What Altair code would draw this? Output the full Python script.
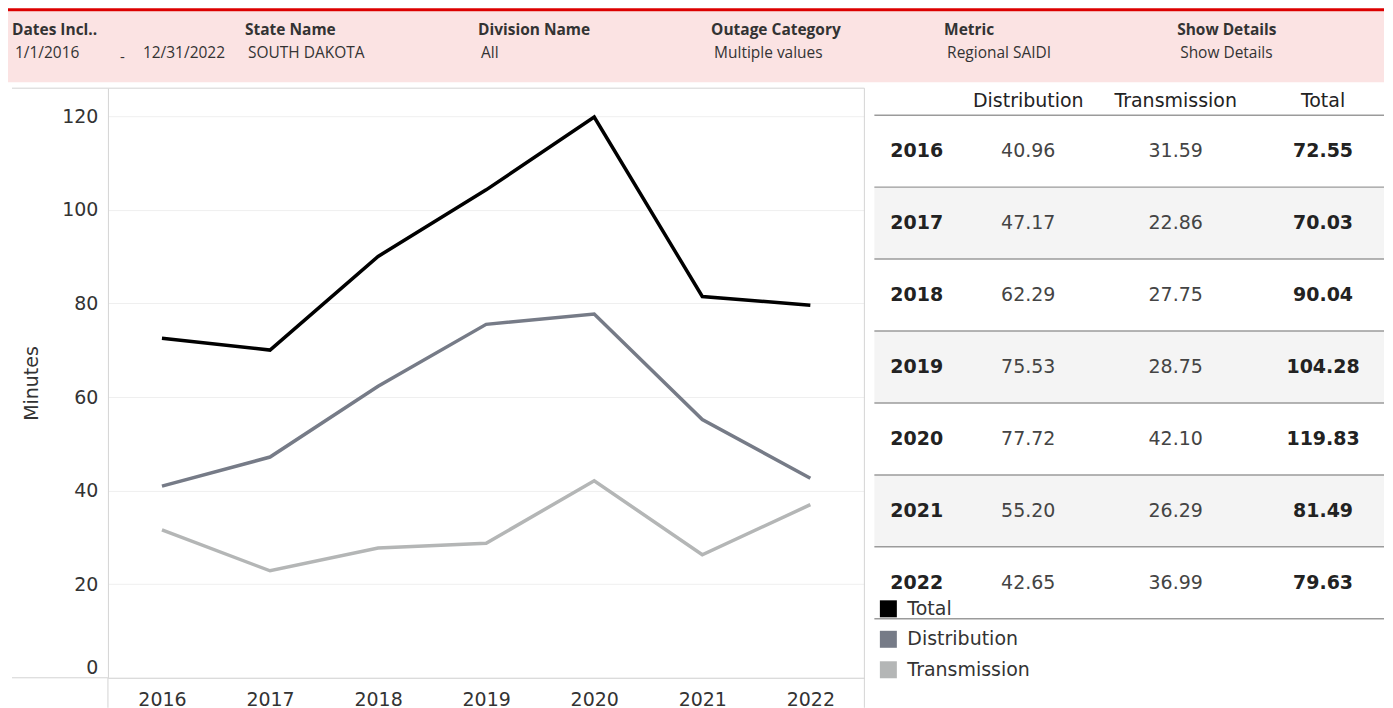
import altair as alt
import pandas as pd

# ---------------- data ----------------
years = ["2016", "2017", "2018", "2019", "2020", "2021", "2022"]
distribution = [40.96, 47.17, 62.29, 75.53, 77.72, 55.20, 42.65]
transmission = [31.59, 22.86, 27.75, 28.75, 42.10, 26.29, 36.99]
total = [72.55, 70.03, 90.04, 104.28, 119.83, 81.49, 79.63]

series_names = ["Total", "Distribution", "Transmission"]
series_colors = ["#000000", "#767b87", "#b4b6b6"]
table_columns = ["Distribution", "Transmission", "Total"]
shaded_years = ["2017", "2019", "2021"]
y_ticks = [0, 20, 40, 60, 80, 100, 120]

filter_labels = ["Dates Incl..", "State Name", "Division Name",
                 "Outage Category", "Metric", "Show Details"]
filter_values = ["1/1/2016", "SOUTH DAKOTA", "All",
                 "Multiple values", "Regional SAIDI", "Show Details"]
date_end = "12/31/2022"

# ---------------- tables ----------------
series_values = {"Total": total, "Distribution": distribution, "Transmission": transmission}
line_df = pd.DataFrame([
    {"Year": y, "Series": s, "Minutes": v}
    for s in series_names for y, v in zip(years, series_values[s])
])
tbl_df = pd.DataFrame([
    {"year": y, "col": c, "value": series_values[c][i]}
    for i, y in enumerate(years) for c in table_columns
])
years_df = pd.DataFrame({"year": years})
shade_df = pd.DataFrame({"year": shaded_years})
cols_df = pd.DataFrame({"col": table_columns})
legend_df = pd.DataFrame({"Series": series_names})
filt_df = pd.DataFrame({"filter": filter_labels, "value": filter_values})
one = pd.DataFrame({"a": [0]})

F = "DejaVu Sans"
HF = "Open Sans"
GRAYLINE = "#d4d4d4"

# plot area of the line chart (all other pieces are placed around it)
LW, LH = 757, 590
LEFT, RIGHT = -100, 1277        # full dashboard extent, relative to the plot
TX0 = 767                        # left edge of the table

color_scale = alt.Scale(domain=series_names, range=series_colors)

# ---------------- header (filter bar) ----------------
hx = alt.X("filter:N", sort=None, axis=None,
           scale=alt.Scale(type="point", domain=filter_labels, range=[-96, 1070], padding=0))
hdr_bg = alt.Chart(one).mark_rect(color="#fbe3e3").encode(
    x=alt.value(LEFT), x2=alt.value(RIGHT), y=alt.value(-77), y2=alt.value(-6))
hdr_red = alt.Chart(one).mark_rect(color="#dc0000").encode(
    x=alt.value(LEFT), x2=alt.value(RIGHT), y=alt.value(-80), y2=alt.value(-77))
hdr_lab = alt.Chart(filt_df).mark_text(
    align="left", baseline="middle", font=HF, fontSize=15.5, fontWeight="bold", color="#333333"
).encode(x=hx, y=alt.value(-58), text="filter:N")
hdr_val = alt.Chart(filt_df).mark_text(
    align="left", baseline="middle", font=HF, fontSize=15.5, color="#333333", dx=3
).encode(x=hx, y=alt.value(-35), text="value:N")
hdr_dash = alt.Chart(filt_df.head(1)).mark_text(
    align="left", baseline="middle", font=HF, fontSize=15, color="#333333", dx=108
).encode(x=hx, y=alt.value(-31), text=alt.value("-"))
hdr_end = alt.Chart(filt_df.head(1)).mark_text(
    align="left", baseline="middle", font=HF, fontSize=15.5, color="#333333", dx=131
).encode(x=hx, y=alt.value(-35), text=alt.value(date_end))

# ---------------- line chart ----------------
lines = alt.Chart(line_df).mark_line(strokeWidth=3.5).encode(
    x=alt.X("Year:O", sort=years, title=None,
            scale=alt.Scale(type="point", padding=0.5),
            axis=alt.Axis(labelAngle=0, labelFont=F, labelFontSize=19, labelColor="#333333",
                          ticks=False, domainColor=GRAYLINE, labelPadding=13, grid=False)),
    y=alt.Y("Minutes:Q", title="Minutes",
            scale=alt.Scale(domain=[0, 126], nice=False, zero=True),
            axis=alt.Axis(values=y_ticks, titleFont=F, titleFontSize=19,
                          titleFontWeight="normal", titleColor="#333333", titlePadding=20,
                          labelFont=F, labelFontSize=19, labelColor="#333333",
                          labelPadding=10, ticks=False, domainColor=GRAYLINE,
                          gridColor="#efefef", labelFlush=True)),
    color=alt.Color("Series:N", scale=color_scale, legend=None),
)
rule_kw = dict(color=GRAYLINE, strokeWidth=1)
top_border = alt.Chart(one).mark_rule(**rule_kw).encode(
    x=alt.value(-96), x2=alt.value(LW), y=alt.value(0))
right_border = alt.Chart(one).mark_rule(**rule_kw).encode(
    x=alt.value(LW), y=alt.value(0), y2=alt.value(620))
base_ext = alt.Chart(one).mark_rule(**rule_kw).encode(
    x=alt.value(-96), x2=alt.value(0), y=alt.value(LH))
left_ext = alt.Chart(one).mark_rule(**rule_kw).encode(
    x=alt.value(0), y=alt.value(LH), y2=alt.value(620))

# ---------------- table ----------------
ys = alt.Scale(domain=years, range=[27, 531], paddingInner=0, paddingOuter=0)
tx = alt.Scale(type="point", domain=table_columns, range=[TX0 + 154, TX0 + 449], padding=0)
t_shade = alt.Chart(shade_df).mark_rect(color="#f4f4f4").encode(
    y=alt.Y("year:O", scale=ys, axis=None), x=alt.value(TX0), x2=alt.value(RIGHT))
t_rules = alt.Chart(years_df).mark_rule(color="#9b9b9b", strokeWidth=1.5).encode(
    y=alt.Y("year:O", scale=ys, axis=None, bandPosition=0),
    x=alt.value(TX0), x2=alt.value(RIGHT))
t_bottom = alt.Chart(one).mark_rule(color="#9b9b9b", strokeWidth=1.5).encode(
    y=alt.value(531), x=alt.value(TX0), x2=alt.value(RIGHT))
t_head = alt.Chart(cols_df).mark_text(
    font=F, fontSize=19, color="#222222", baseline="middle"
).encode(x=alt.X("col:N", scale=tx, axis=None), y=alt.value(13), text="col:N")
t_years = alt.Chart(years_df).mark_text(
    font=F, fontSize=19, fontWeight="bold", color="#222222", align="left", baseline="middle"
).encode(x=alt.value(TX0 + 16), y=alt.Y("year:O", scale=ys, axis=None), text="year:N")
t_vals = alt.Chart(tbl_df).transform_filter(alt.datum.col != "Total").mark_text(
    font=F, fontSize=19, color="#444444", baseline="middle"
).encode(x=alt.X("col:N", scale=tx, axis=None), y=alt.Y("year:O", scale=ys, axis=None),
         text=alt.Text("value:Q", format=".2f"))
t_tot = alt.Chart(tbl_df).transform_filter(alt.datum.col == "Total").mark_text(
    font=F, fontSize=19, fontWeight="bold", color="#222222", baseline="middle"
).encode(x=alt.X("col:N", scale=tx, axis=None), y=alt.Y("year:O", scale=ys, axis=None),
         text=alt.Text("value:Q", format=".2f"))

# ---------------- legend (drawn from the series list) ----------------
ly = alt.Y("Series:N", sort=None, axis=None,
           scale=alt.Scale(type="point", domain=series_names, range=[521, 582], padding=0))
leg_sq = alt.Chart(legend_df).mark_square(size=289, opacity=1).encode(
    x=alt.value(TX0 + 14), y=ly, color=alt.Color("Series:N", scale=color_scale, legend=None))
leg_tx = alt.Chart(legend_df).mark_text(
    font=F, fontSize=19, color="#333333", align="left", baseline="middle"
).encode(x=alt.value(TX0 + 33), y=ly, text="Series:N")

chart = alt.layer(
    hdr_bg, hdr_red, hdr_lab, hdr_val, hdr_dash, hdr_end,
    top_border, right_border, base_ext, left_ext, lines,
    t_shade, t_rules, t_bottom, t_head, t_years, t_vals, t_tot,
    leg_sq, leg_tx,
).resolve_scale(x="independent", y="independent").properties(
    width=LW, height=LH, padding=0
).configure_view(strokeWidth=0)

chart.save("out.html", embed_options={"renderer": "svg", "actions": False})
